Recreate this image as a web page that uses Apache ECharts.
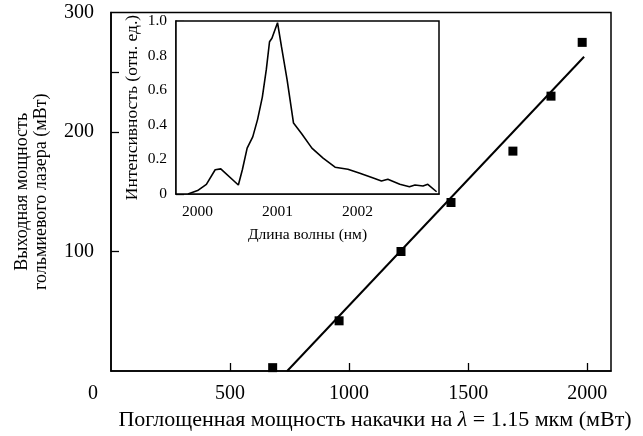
<!DOCTYPE html>
<html>
<head>
<meta charset="utf-8">
<script src="https://cdn.jsdelivr.net/npm/echarts@6/dist/echarts.min.js"></script>
<style>
  html, body { margin: 0; padding: 0; background: #fff; }
  #chart { width: 643px; height: 436px; }
</style>
</head>
<body>
<div id="chart"></div>
<script>
// Output power of the holmium laser vs absorbed pump power (mW)
const pumpPower = [679, 958, 1218, 1428, 1688, 1848, 1979];
const outputPower = [2.8, 42, 100, 141, 184, 230, 275];

// Linear fit endpoints (pump mW, output mW)
const fitPump = [740, 1987];
const fitOutput = [0, 263];

// Main axis ticks and labels
const mainXLabels = [0, 500, 1000, 1500, 2000];
const mainXTicks = [500, 1000, 1500, 2000];
const mainYLabels = [100, 200, 300];
const mainYTicks = [100, 200, 250];

// Inset: emission spectrum (wavelength nm, relative intensity)
const wavelength = [1999.88, 2000.0, 2000.11, 2000.22, 2000.29, 2000.51, 2000.56, 2000.62,
  2000.69, 2000.75, 2000.81, 2000.86, 2000.90, 2000.93, 2001.0, 2001.05, 2001.12,
  2001.20, 2001.30, 2001.43, 2001.57, 2001.72, 2001.88, 2002.03, 2002.18, 2002.30,
  2002.38, 2002.53, 2002.65, 2002.72, 2002.82, 2002.88, 2002.99];
const intensity = [0, 0.02, 0.056, 0.14, 0.145, 0.052, 0.14, 0.265,
  0.33, 0.43, 0.56, 0.72, 0.88, 0.90, 0.99, 0.85, 0.66,
  0.41, 0.35, 0.265, 0.207, 0.155, 0.143, 0.12, 0.095, 0.075,
  0.085, 0.056, 0.042, 0.052, 0.046, 0.056, 0.013];
const insetXTicks = [2000, 2001, 2002];

const FONT = 'Liberation Serif';
const black = '#000';

const pts = pumpPower.map((x, i) => [x, outputPower[i]]);
const fit = fitPump.map((x, i) => [x, fitOutput[i]]);
const spectrum = wavelength.map((x, i) => [x, intensity[i]]);

const chart = echarts.init(document.getElementById('chart'), null, { renderer: 'canvas' });

chart.setOption({
  backgroundColor: '#fff',
  animation: false,
  textStyle: { fontFamily: FONT, color: black },
  grid: [
    { left: 111, top: 12.5, right: 32, bottom: 65, show: true, borderColor: black, borderWidth: 1.5, backgroundColor: 'transparent' },
    { left: 176, top: 21, width: 263, height: 173, show: true, borderColor: black, borderWidth: 1.5, backgroundColor: '#fff', z: 5 }
  ],
  xAxis: [
    {
      gridIndex: 0, type: 'value', min: 0, max: 2100,
      name: 'Поглощенная мощность накачки на {it|λ} = 1.15 мкм (мВт)',
      nameLocation: 'middle', nameGap: 38,
      nameTextStyle: {
        fontFamily: FONT, fontSize: 22, color: black, padding: [0, 0, 0, 28],
        rich: { it: { fontFamily: FONT, fontSize: 22, fontStyle: 'italic', color: black } }
      },
      axisLine: { show: true, lineStyle: { color: black, width: 1.5 } },
      axisTick: { show: true, inside: true, length: 8, customValues: mainXTicks, lineStyle: { color: black, width: 1.3 } },
      axisLabel: {
        customValues: mainXLabels, margin: 13, fontFamily: FONT, fontSize: 20, color: black,
        formatter: v => v === 0 ? '{z|0}' : String(v),
        rich: { z: { fontFamily: FONT, fontSize: 20, color: black, padding: [0, 36, 0, 0] } }
      },
      splitLine: { show: false }
    },
    {
      gridIndex: 1, type: 'value', min: 1999.73, max: 2003.02,
      name: 'Длина волны (нм)', nameLocation: 'middle', nameGap: 33,
      nameTextStyle: { fontFamily: FONT, fontSize: 15.5, color: black },
      axisLine: { show: true, lineStyle: { color: black, width: 1.5 } },
      axisTick: { show: true, inside: true, length: 8, customValues: insetXTicks, lineStyle: { color: black, width: 1.3 } },
      axisLabel: { customValues: insetXTicks, margin: 10, fontFamily: FONT, fontSize: 15.5, color: black, formatter: v => String(v) },
      splitLine: { show: false }
    }
  ],
  yAxis: [
    {
      gridIndex: 0, type: 'value', min: 0, max: 300,
      name: 'Выходная мощность\nгольмиевого лазера (мВт)',
      nameLocation: 'middle', nameGap: 60,
      nameTextStyle: { fontFamily: FONT, fontSize: 18, color: black, lineHeight: 19 },
      axisLine: { show: true, lineStyle: { color: black, width: 1.5 } },
      axisTick: { show: true, inside: true, length: 8, customValues: mainYTicks, lineStyle: { color: black, width: 1.3 } },
      axisLabel: { customValues: mainYLabels, margin: 17, fontFamily: FONT, fontSize: 20, color: black },
      splitLine: { show: false }
    },
    {
      gridIndex: 1, type: 'value', min: 0, max: 1, interval: 0.2,
      name: 'Интенсивность (отн. ед.)', nameLocation: 'middle', nameGap: 35,
      nameTextStyle: { fontFamily: FONT, fontSize: 17.5, color: black },
      axisLine: { show: true, lineStyle: { color: black, width: 1.5 } },
      axisTick: { show: true, inside: true, length: 8, lineStyle: { color: black, width: 1.3 } },
      axisLabel: { margin: 9, fontFamily: FONT, fontSize: 15.5, color: black, formatter: v => v === 0 ? '0' : v.toFixed(1) },
      splitLine: { show: false }
    }
  ],
  series: [
    {
      type: 'line', xAxisIndex: 0, yAxisIndex: 0, data: fit,
      showSymbol: false, symbol: 'none', lineStyle: { color: black, width: 2 }, z: 2
    },
    {
      type: 'scatter', xAxisIndex: 0, yAxisIndex: 0, data: pts,
      symbol: 'rect', symbolSize: 9, itemStyle: { color: black, opacity: 1 }, z: 3
    },
    {
      type: 'line', xAxisIndex: 1, yAxisIndex: 1, data: spectrum,
      showSymbol: false, symbol: 'none', lineStyle: { color: black, width: 1.6 }, z: 6
    }
  ]
});
</script>
</body>
</html>
